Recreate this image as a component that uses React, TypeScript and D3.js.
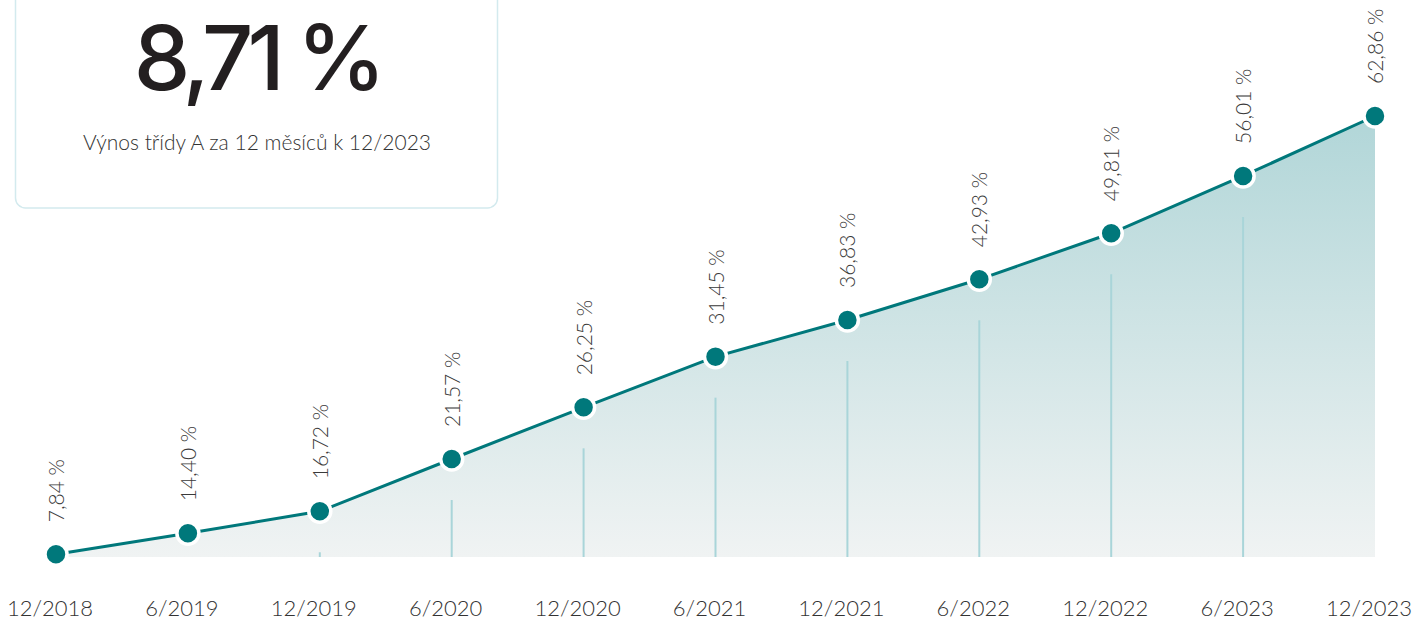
import React, { useEffect, useRef } from 'react'
import * as d3 from 'd3'

// period labels on the x axis
const periods = ['12/2018', '6/2019', '12/2019', '6/2020', '12/2020', '6/2021', '12/2021', '6/2022', '12/2022', '6/2023', '12/2023']
// cumulative return shown in the labels (%)
const returns = [7.84, 14.40, 16.72, 21.57, 26.25, 31.45, 36.83, 42.93, 49.81, 56.01, 62.86]
// curve height as drawn in the chart
const plotted = [7.84, 10.48, 13.24, 19.80, 26.29, 32.65, 37.25, 42.36, 48.14, 55.33, 62.86]
const yDomain = [7.5, 62.86]

const headline = '8,71 %'
const subtitle = 'Výnos třídy A za 12 měsíců k 12/2023'

const W = 1420
const H = 621
const TEAL = '#00787b'
const FONT = 'Lato, "Noto Sans", sans-serif'

const fmt = (v: number) => v.toFixed(2).replace('.', ',') + ' %'

function App() {
    const ref = useRef<SVGSVGElement>(null)

    useEffect(() => {
        const svg = d3.select(ref.current)
        svg.selectAll('*').remove()

        const x = d3.scalePoint<string>().domain(periods).range([56, 1375])
        const y = d3.scaleLinear().domain(yDomain).range([557, 116])
        const data = periods.map((p, i) => ({ p, v: plotted[i], r: returns[i] }))

        const defs = svg.append('defs')
        const grad = defs.append('linearGradient')
            .attr('id', 'areaFill')
            .attr('gradientUnits', 'userSpaceOnUse')
            .attr('x1', 0).attr('x2', 0)
            .attr('y1', y(yDomain[1])).attr('y2', y(yDomain[0]))
        grad.append('stop').attr('offset', 0).attr('stop-color', '#b1d6d8')
        grad.append('stop').attr('offset', 1).attr('stop-color', '#f0f3f3')

        // info card
        svg.append('rect')
            .attr('x', 15.5).attr('y', -20)
            .attr('width', 482).attr('height', 228)
            .attr('rx', 10)
            .attr('fill', '#fff')
            .attr('stroke', '#d3eaee')
            .attr('stroke-width', 1.5)
        svg.append('text')
            .attr('x', 257).attr('y', 90)
            .attr('text-anchor', 'middle')
            .attr('font-family', 'Inter, Lato, sans-serif')
            .attr('font-weight', 500)
            .attr('font-size', 90)
            .attr('letter-spacing', -6)
            .attr('fill', '#231f20')
            .text(headline)
        svg.append('text')
            .attr('x', 257).attr('y', 150)
            .attr('text-anchor', 'middle')
            .attr('font-family', FONT)
            .attr('font-weight', 300)
            .attr('font-size', 21)
            .attr('fill', '#333')
            .text(subtitle)

        // area under the line
        const area = d3.area<any>()
            .x(d => x(d.p)!)
            .y0(y(yDomain[0]))
            .y1(d => y(d.v))
        svg.append('path').datum(data).attr('d', area).attr('fill', 'url(#areaFill)')

        // drop lines (none for the last point)
        const gap = 41
        svg.append('g')
            .selectAll('line')
            .data(data.slice(0, -1).filter(d => y(d.v) + gap < y(yDomain[0])))
            .enter()
            .append('line')
            .attr('x1', d => x(d.p)!).attr('x2', d => x(d.p)!)
            .attr('y1', d => y(d.v) + gap)
            .attr('y2', y(yDomain[0]))
            .attr('stroke', '#a9d5d9')
            .attr('stroke-width', 2)

        const line = d3.line<any>().x(d => x(d.p)!).y(d => y(d.v))
        svg.append('path').datum(data)
            .attr('d', line)
            .attr('fill', 'none')
            .attr('stroke', TEAL)
            .attr('stroke-width', 3)

        svg.append('g')
            .selectAll('circle')
            .data(data)
            .enter()
            .append('circle')
            .attr('cx', d => x(d.p)!)
            .attr('cy', d => y(d.v))
            .attr('r', 11)
            .attr('fill', TEAL)
            .attr('stroke', '#fff')
            .attr('stroke-width', 3.5)

        // value labels, rotated
        svg.append('g')
            .selectAll('text')
            .data(data)
            .enter()
            .append('text')
            .attr('transform', d => `translate(${x(d.p)! + 8},${y(d.v) - 32}) rotate(-90)`)
            .attr('font-family', FONT)
            .attr('font-weight', 300)
            .attr('font-size', 21)
            .attr('fill', '#3a3a3a')
            .text(d => fmt(d.r))

        // x axis labels
        svg.append('g')
            .selectAll('text')
            .data(periods)
            .enter()
            .append('text')
            .attr('x', d => x(d)! - 6)
            .attr('y', 616)
            .attr('text-anchor', 'middle')
            .attr('font-family', FONT)
            .attr('font-weight', 300)
            .attr('font-size', 22)
            .attr('fill', '#333')
            .text(d => d)
    }, [])

    return (
        <div style={{ position: 'absolute', left: 0, top: 0 }}>
            <svg ref={ref} width={W} height={H} style={{ display: 'block' }} />
        </div>
    )
}

export default App
